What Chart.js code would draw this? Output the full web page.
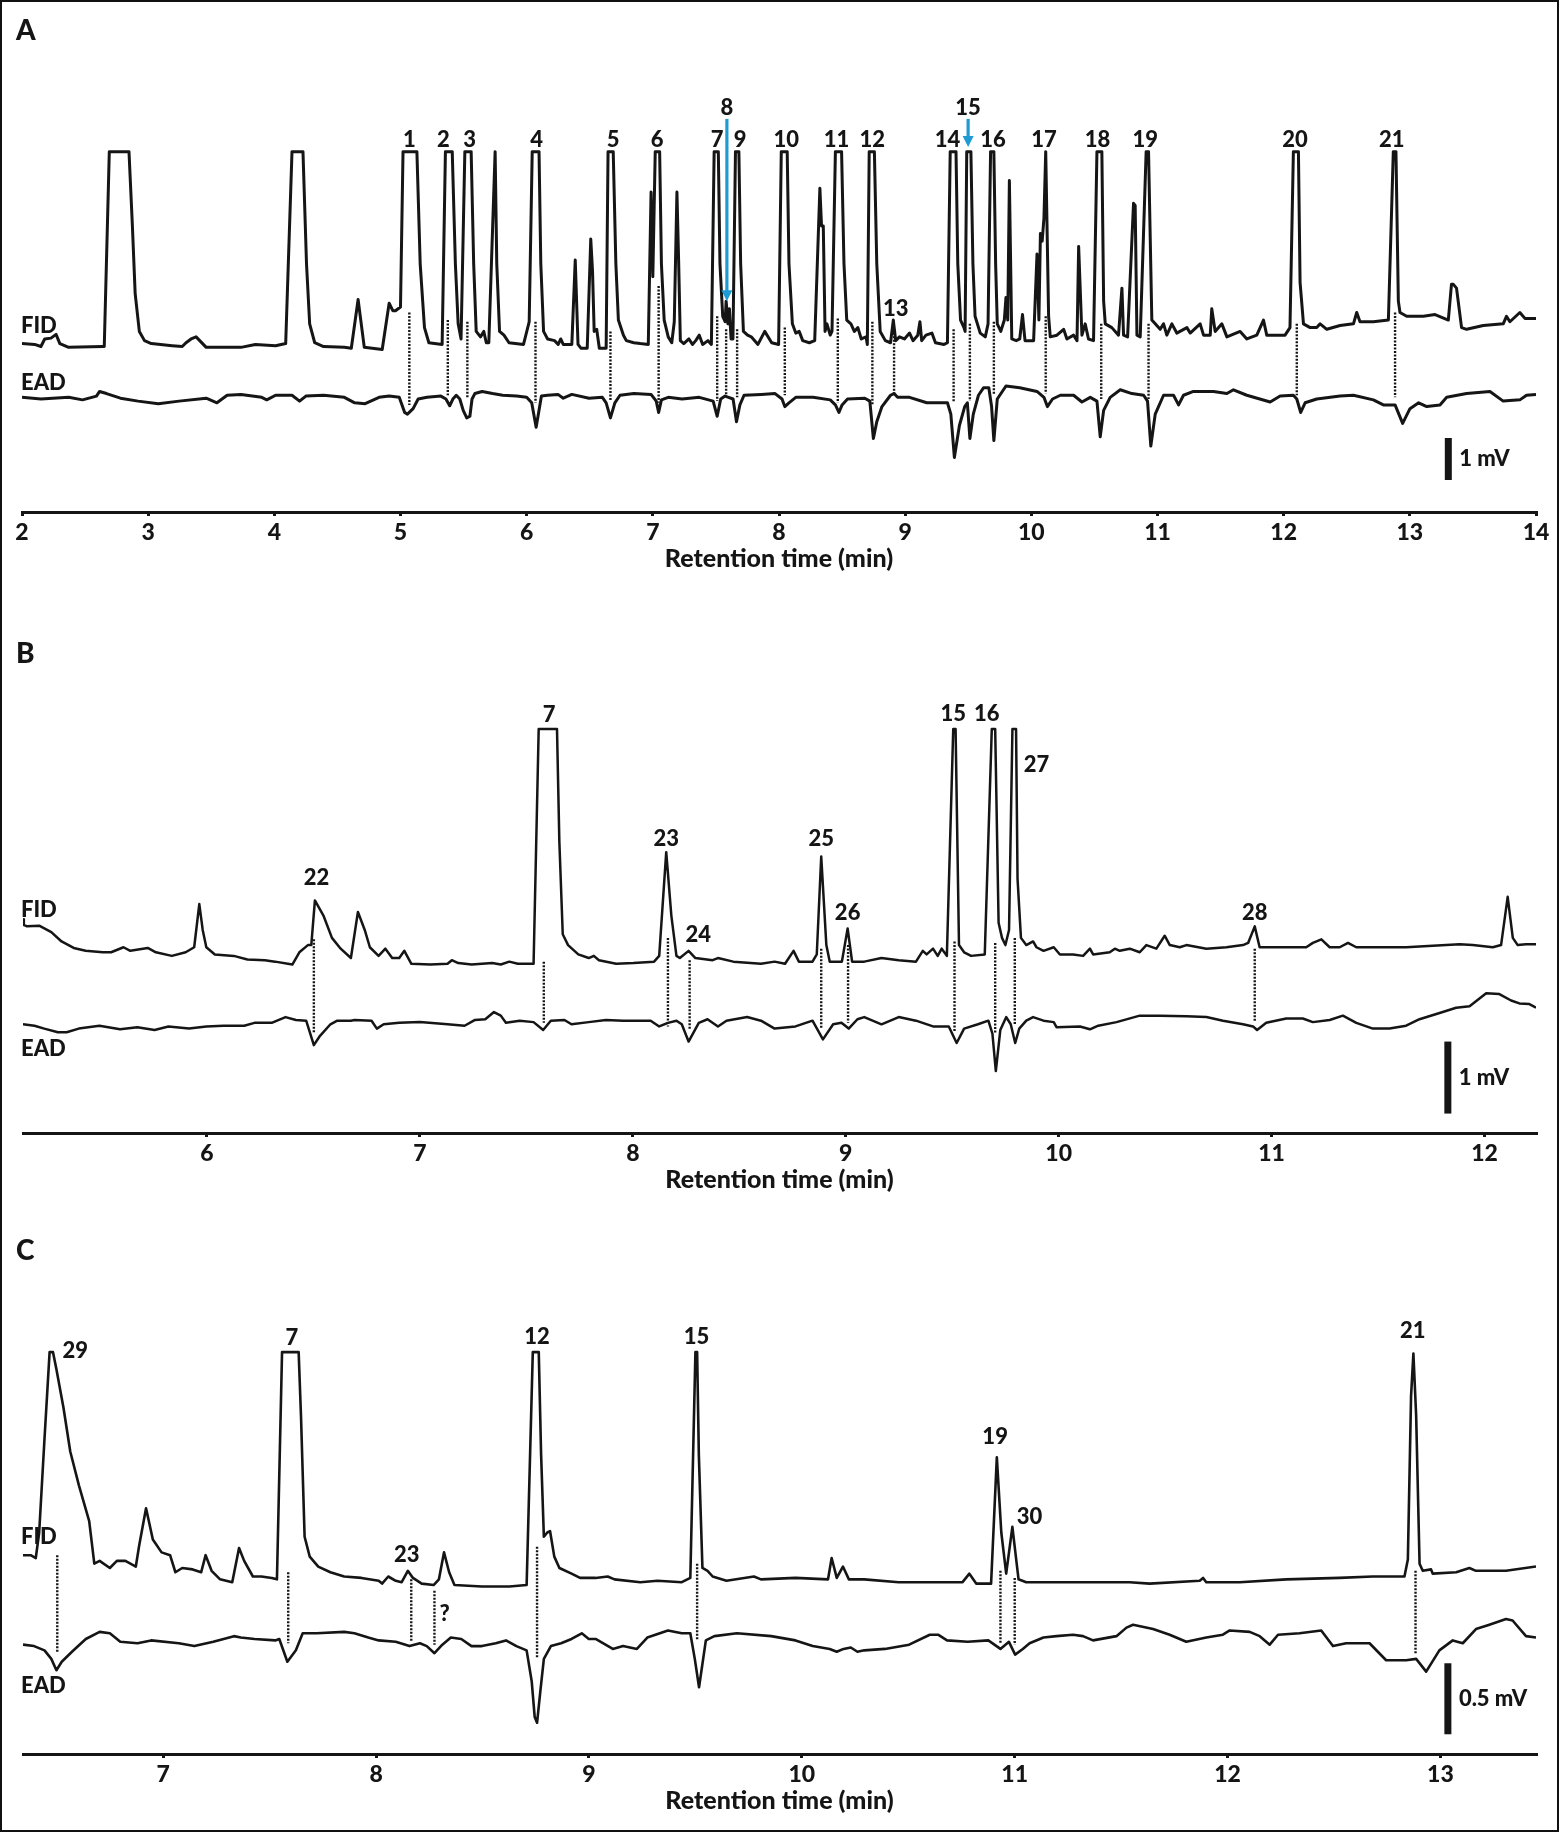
<!DOCTYPE html>
<html><head><meta charset="utf-8">
<script src="https://cdn.jsdelivr.net/npm/chart.js@4.4.1/dist/chart.umd.min.js"></script>
<style>
html,body{margin:0;padding:0;background:#fff;overflow:hidden;width:1562px;height:1833px;}
#frame{position:absolute;left:0;top:0;width:1559px;height:1832px;border:2px solid #111;box-sizing:border-box;}
canvas{position:absolute;left:0;}
</style></head><body>
<div id="frame"></div>
<canvas id="cA" width="1562" height="574" style="top:0px"></canvas>
<canvas id="cB" width="1562" height="594" style="top:601px"></canvas>
<canvas id="cC" width="1562" height="586" style="top:1230px"></canvas>
<script>
// ===== Panel A data: [retention time (min), signal (mV)] =====
const fidA = [[2.00,4.01],[2.10,3.99],[2.15,3.94],[2.18,4.12],[2.23,4.14],[2.27,4.23],[2.30,4.01],[2.37,3.92],[2.64,3.94],[2.652,3.94],[2.692,8.58],[2.848,8.58],[2.875,6.81],[2.897,5.20],[2.93,4.30],[2.971,4.08],[3.025,4.01],[3.19,3.96],[3.27,3.94],[3.30,4.03],[3.34,4.12],[3.38,4.17],[3.46,3.92],[3.735,3.92],[3.85,3.99],[4.01,3.96],[4.09,4.01],[4.14,8.58],[4.227,8.58],[4.255,5.91],[4.28,4.48],[4.32,4.03],[4.39,3.94],[4.555,3.92],[4.61,3.90],[4.664,5.06],[4.713,3.92],[4.855,3.87],[4.91,4.97],[4.94,4.79],[4.96,4.79],[5.00,4.88],[5.02,8.58],[5.13,8.58],[5.156,5.91],[5.19,4.39],[5.225,4.03],[5.33,3.99],[5.356,8.58],[5.41,8.58],[5.435,5.91],[5.457,4.48],[5.48,4.12],[5.51,8.58],[5.56,8.58],[5.58,5.91],[5.60,4.30],[5.634,4.17],[5.66,4.30],[5.68,4.03],[5.70,4.03],[5.75,8.58],[5.763,5.91],[5.785,4.30],[5.82,4.21],[5.86,4.03],[5.975,3.99],[6.02,4.53],[6.044,8.58],[6.098,8.58],[6.112,5.91],[6.134,4.30],[6.166,4.12],[6.221,4.08],[6.25,3.99],[6.27,4.12],[6.29,3.99],[6.358,3.99],[6.385,6.00],[6.407,3.99],[6.43,3.90],[6.48,3.90],[6.508,6.50],[6.522,5.73],[6.535,4.30],[6.555,4.35],[6.576,3.90],[6.63,3.90],[6.645,8.58],[6.686,8.58],[6.707,5.91],[6.727,4.57],[6.767,4.21],[6.79,4.08],[6.849,4.03],[6.90,4.01],[6.964,3.99],[6.986,7.62],[7.00,5.60],[7.019,8.58],[7.054,8.58],[7.068,5.91],[7.09,4.57],[7.122,4.17],[7.15,4.03],[7.17,4.53],[7.191,7.62],[7.205,5.91],[7.218,4.08],[7.245,4.01],[7.286,4.12],[7.314,3.99],[7.34,4.08],[7.368,4.21],[7.395,3.99],[7.437,4.08],[7.464,3.99],[7.486,8.58],[7.519,8.58],[7.532,5.91],[7.554,4.66],[7.573,4.53],[7.581,5.02],[7.595,4.48],[7.607,4.84],[7.62,4.12],[7.635,4.12],[7.655,8.58],[7.682,8.58],[7.696,5.91],[7.718,4.30],[7.751,4.21],[7.78,4.17],[7.833,3.99],[7.887,4.30],[7.942,4.03],[7.997,3.99],[8.018,8.58],[8.065,8.58],[8.079,5.91],[8.106,4.48],[8.133,4.26],[8.16,4.30],[8.188,4.08],[8.24,4.03],[8.283,4.08],[8.324,7.71],[8.337,6.81],[8.351,6.81],[8.365,4.30],[8.38,4.48],[8.406,4.21],[8.42,4.30],[8.447,8.58],[8.496,8.58],[8.515,5.91],[8.537,4.57],[8.57,4.48],[8.597,4.30],[8.625,4.39],[8.652,4.12],[8.69,4.17],[8.70,3.99],[8.715,8.58],[8.756,8.58],[8.775,5.91],[8.802,4.30],[8.843,4.08],[8.884,4.03],[8.906,4.57],[8.925,4.08],[8.955,4.17],[8.994,4.12],[9.035,4.26],[9.062,4.08],[9.10,4.21],[9.117,4.53],[9.131,4.08],[9.165,4.21],[9.212,4.26],[9.24,4.03],[9.308,3.99],[9.335,4.03],[9.357,8.58],[9.403,8.58],[9.417,5.91],[9.439,4.57],[9.466,4.39],[9.475,4.30],[9.488,8.58],[9.521,8.58],[9.537,5.91],[9.554,4.66],[9.595,4.26],[9.635,4.17],[9.657,4.48],[9.677,8.58],[9.703,8.58],[9.717,5.91],[9.73,4.48],[9.758,4.30],[9.786,4.57],[9.799,5.11],[9.813,4.57],[9.826,7.89],[9.845,4.12],[9.88,4.08],[9.908,4.12],[9.93,4.70],[9.95,4.08],[10.018,4.08],[10.045,6.14],[10.06,4.57],[10.072,6.63],[10.086,6.45],[10.10,7.00],[10.114,8.58],[10.137,4.66],[10.15,4.17],[10.203,4.21],[10.256,4.35],[10.282,4.12],[10.335,4.21],[10.362,4.08],[10.375,6.32],[10.401,4.21],[10.427,4.48],[10.453,4.12],[10.493,4.08],[10.52,8.58],[10.559,8.58],[10.573,5.02],[10.586,4.48],[10.638,4.39],[10.691,4.21],[10.718,5.33],[10.731,4.21],[10.763,4.17],[10.81,7.35],[10.823,7.30],[10.837,4.21],[10.863,4.17],[10.91,8.58],[10.929,8.58],[10.955,4.57],[10.982,4.48],[11.021,4.35],[11.048,4.48],[11.074,4.21],[11.114,4.48],[11.153,4.26],[11.233,4.39],[11.259,4.26],[11.338,4.48],[11.365,4.21],[11.418,4.21],[11.43,4.84],[11.457,4.30],[11.51,4.48],[11.55,4.17],[11.655,4.30],[11.708,4.12],[11.787,4.21],[11.84,4.57],[11.866,4.21],[12.011,4.21],[12.05,4.39],[12.077,8.58],[12.117,8.58],[12.13,5.47],[12.157,4.48],[12.21,4.39],[12.262,4.39],[12.289,4.48],[12.342,4.35],[12.447,4.44],[12.553,4.48],[12.579,4.75],[12.605,4.53],[12.711,4.53],[12.83,4.57],[12.869,8.58],[12.89,8.58],[12.909,5.02],[12.922,4.75],[12.975,4.66],[13.107,4.66],[13.20,4.70],[13.305,4.57],[13.33,5.42],[13.345,5.42],[13.37,5.33],[13.41,4.39],[13.45,4.35],[13.582,4.44],[13.74,4.48],[13.766,4.66],[13.793,4.53],[13.872,4.75],[13.912,4.61],[14.0,4.61]];
const eadA = [[2.0,2.73],[2.15,2.69],[2.37,2.73],[2.48,2.67],[2.59,2.76],[2.615,2.87],[2.67,2.82],[2.78,2.71],[2.92,2.64],[3.08,2.58],[3.245,2.64],[3.46,2.71],[3.545,2.60],[3.626,2.78],[3.736,2.80],[3.90,2.73],[3.94,2.67],[4.01,2.78],[4.14,2.78],[4.20,2.64],[4.25,2.76],[4.39,2.78],[4.555,2.73],[4.637,2.60],[4.72,2.58],[4.83,2.73],[4.91,2.76],[4.99,2.73],[5.033,2.37],[5.055,2.33],[5.10,2.46],[5.14,2.69],[5.21,2.73],[5.32,2.76],[5.36,2.69],[5.39,2.53],[5.415,2.69],[5.442,2.78],[5.47,2.69],[5.497,2.42],[5.525,2.24],[5.55,2.28],[5.567,2.69],[5.59,2.82],[5.647,2.87],[5.73,2.82],[5.81,2.78],[5.92,2.76],[6.0,2.73],[6.04,2.60],[6.075,2.02],[6.098,2.42],[6.117,2.76],[6.166,2.78],[6.248,2.80],[6.29,2.71],[6.358,2.80],[6.494,2.71],[6.60,2.73],[6.63,2.60],[6.664,2.24],[6.699,2.60],[6.74,2.78],[6.85,2.82],[6.986,2.80],[7.027,2.64],[7.046,2.37],[7.068,2.67],[7.122,2.73],[7.232,2.69],[7.368,2.73],[7.478,2.64],[7.51,2.28],[7.538,2.69],[7.573,2.76],[7.60,2.73],[7.636,2.69],[7.663,2.15],[7.69,2.55],[7.723,2.78],[7.86,2.80],[7.969,2.82],[8.024,2.69],[8.046,2.51],[8.079,2.60],[8.133,2.73],[8.27,2.73],[8.406,2.67],[8.447,2.55],[8.475,2.37],[8.50,2.55],[8.543,2.69],[8.68,2.71],[8.72,2.64],[8.748,1.75],[8.775,2.15],[8.816,2.51],[8.884,2.78],[8.912,2.82],[8.94,2.73],[9.035,2.73],[9.171,2.60],[9.335,2.60],[9.362,2.33],[9.39,1.30],[9.43,2.06],[9.472,2.51],[9.493,2.60],[9.513,1.75],[9.54,2.33],[9.581,2.78],[9.622,2.96],[9.663,2.96],[9.685,2.51],[9.703,1.70],[9.73,2.69],[9.799,3.00],[9.908,2.96],[10.045,2.87],[10.10,2.73],[10.127,2.51],[10.168,2.69],[10.23,2.78],[10.335,2.78],[10.401,2.62],[10.467,2.73],[10.52,2.64],[10.546,1.79],[10.573,2.42],[10.625,2.73],[10.705,2.91],[10.797,2.82],[10.89,2.78],[10.921,2.64],[10.947,1.57],[10.982,2.33],[11.048,2.78],[11.127,2.78],[11.167,2.55],[11.206,2.78],[11.285,2.87],[11.444,2.87],[11.55,2.82],[11.602,2.91],[11.708,2.78],[11.893,2.62],[11.972,2.76],[12.077,2.78],[12.104,2.69],[12.135,2.37],[12.17,2.60],[12.262,2.69],[12.447,2.76],[12.553,2.78],[12.711,2.67],[12.79,2.55],[12.883,2.55],[12.943,2.11],[13.001,2.46],[13.07,2.60],[13.134,2.51],[13.239,2.55],[13.292,2.73],[13.45,2.82],[13.635,2.87],[13.74,2.64],[13.872,2.67],[13.925,2.78],[14.0,2.80]];
// dotted links: [time, FID end, EAD end]
const linksA = [[5.07,4.75,2.55],[5.375,4.57,2.78],[5.53,4.53,2.73],[6.07,4.53,2.60],[6.664,4.30,2.64],[7.046,5.38,2.60],[7.51,4.66,2.64],[7.581,4.35,2.78],[7.668,4.35,2.73],[8.046,4.39,2.78],[8.466,4.61,2.60],[8.74,4.53,2.55],[8.912,4.35,2.82],[9.384,4.35,2.60],[9.513,4.48,2.64],[9.703,4.53,2.78],[10.114,4.66,2.82],[10.554,4.48,2.69],[10.929,4.48,2.69],[12.104,4.48,2.78],[12.883,4.75,2.73]];
const peaksA = [['1',5.07,8.87],['2',5.339,8.87],['3',5.547,8.87],['4',6.079,8.87],['5',6.685,8.87],['6',7.035,8.87],['7',7.51,8.87],['8',7.587,9.63],['9',7.691,8.87],['10',8.057,8.87],['11',8.455,8.87],['12',8.74,8.87],['13',8.925,4.84],['14',9.335,8.87],['15',9.499,9.63],['16',9.696,8.87],['17',10.10,8.87],['18',10.525,8.87],['19',10.903,8.87],['20',12.09,8.87],['21',12.856,8.87]];
const arrowsA = [[7.587,9.36,5.02],[9.499,9.36,8.69]];
const ticksA = [2,14];

// ===== Panel B data =====
const fidB = [[5.136,2.97],[5.14,2.89],[5.155,2.87],[5.212,2.88],[5.269,2.79],[5.317,2.66],[5.35,2.61],[5.374,2.57],[5.43,2.53],[5.511,2.51],[5.55,2.51],[5.608,2.58],[5.64,2.53],[5.722,2.57],[5.76,2.51],[5.835,2.46],[5.90,2.51],[5.94,2.58],[5.964,3.18],[5.98,2.82],[5.997,2.58],[6.037,2.48],[6.126,2.46],[6.19,2.41],[6.272,2.40],[6.32,2.38],[6.401,2.34],[6.434,2.51],[6.474,2.61],[6.49,2.61],[6.507,3.23],[6.547,3.02],[6.587,2.71],[6.628,2.56],[6.676,2.43],[6.709,3.07],[6.741,2.82],[6.765,2.58],[6.806,2.46],[6.838,2.56],[6.87,2.43],[6.903,2.43],[6.927,2.53],[6.96,2.35],[7.049,2.34],[7.13,2.35],[7.15,2.40],[7.18,2.36],[7.243,2.34],[7.34,2.36],[7.38,2.34],[7.42,2.38],[7.46,2.35],[7.534,2.35],[7.558,5.61],[7.644,5.61],[7.655,4.05],[7.671,2.76],[7.696,2.61],[7.744,2.48],[7.793,2.43],[7.817,2.46],[7.841,2.40],[7.922,2.35],[8.003,2.36],[8.10,2.38],[8.124,2.46],[8.157,3.90],[8.181,3.02],[8.205,2.46],[8.221,2.43],[8.262,2.53],[8.294,2.43],[8.375,2.40],[8.40,2.43],[8.472,2.38],[8.602,2.35],[8.666,2.38],[8.715,2.35],[8.755,2.53],[8.78,2.38],[8.844,2.38],[8.864,2.48],[8.885,3.84],[8.909,2.61],[8.925,2.38],[8.982,2.38],[9.009,2.84],[9.03,2.38],[9.087,2.38],[9.168,2.43],[9.249,2.40],[9.33,2.38],[9.362,2.53],[9.38,2.48],[9.41,2.56],[9.432,2.46],[9.451,2.56],[9.475,2.46],[9.505,5.61],[9.516,5.61],[9.532,2.61],[9.556,2.51],[9.589,2.46],[9.653,2.48],[9.686,5.61],[9.702,5.61],[9.718,2.92],[9.734,2.71],[9.75,2.61],[9.767,2.82],[9.783,5.61],[9.80,5.61],[9.807,3.53],[9.823,2.71],[9.848,2.61],[9.88,2.66],[9.896,2.58],[9.929,2.53],[9.977,2.58],[10.006,2.48],[10.068,2.48],[10.115,2.46],[10.147,2.56],[10.162,2.48],[10.24,2.51],[10.264,2.56],[10.287,2.53],[10.334,2.56],[10.381,2.51],[10.412,2.61],[10.459,2.56],[10.498,2.74],[10.522,2.61],[10.569,2.58],[10.60,2.61],[10.694,2.56],[10.788,2.58],[10.866,2.61],[10.89,2.64],[10.921,2.87],[10.944,2.58],[11.007,2.58],[11.163,2.58],[11.194,2.64],[11.234,2.69],[11.273,2.58],[11.32,2.58],[11.359,2.64],[11.398,2.58],[11.476,2.58],[11.632,2.58],[11.757,2.60],[11.883,2.62],[11.945,2.61],[12.039,2.58],[12.078,2.61],[12.109,3.28],[12.133,2.71],[12.156,2.61],[12.195,2.62],[12.242,2.62]];
const eadB = [[5.136,1.51],[5.19,1.49],[5.236,1.45],[5.30,1.40],[5.341,1.40],[5.398,1.45],[5.495,1.49],[5.592,1.44],[5.673,1.47],[5.754,1.43],[5.819,1.48],[5.916,1.45],[5.997,1.48],[6.078,1.49],[6.175,1.49],[6.223,1.53],[6.304,1.53],[6.369,1.61],[6.418,1.57],[6.466,1.56],[6.502,1.22],[6.531,1.35],[6.58,1.51],[6.612,1.56],[6.676,1.56],[6.693,1.57],[6.773,1.56],[6.798,1.45],[6.83,1.51],[6.903,1.53],[7.0,1.54],[7.13,1.51],[7.21,1.49],[7.259,1.57],[7.307,1.58],[7.348,1.68],[7.38,1.63],[7.404,1.53],[7.469,1.56],[7.534,1.54],[7.579,1.43],[7.615,1.56],[7.679,1.57],[7.712,1.51],[7.793,1.54],[7.874,1.57],[7.954,1.56],[8.084,1.56],[8.124,1.48],[8.165,1.53],[8.205,1.56],[8.23,1.51],[8.262,1.27],[8.31,1.53],[8.351,1.58],[8.40,1.48],[8.44,1.56],[8.537,1.61],[8.602,1.56],[8.666,1.45],[8.764,1.48],[8.844,1.56],[8.893,1.30],[8.941,1.51],[8.98,1.53],[9.014,1.45],[9.055,1.58],[9.087,1.61],[9.168,1.51],[9.249,1.61],[9.33,1.56],[9.41,1.48],[9.484,1.48],[9.521,1.25],[9.556,1.45],[9.621,1.51],[9.67,1.56],[9.689,1.38],[9.705,0.86],[9.726,1.43],[9.754,1.61],[9.775,1.51],[9.796,1.25],[9.815,1.45],[9.848,1.56],[9.88,1.61],[9.929,1.56],[9.977,1.54],[9.99,1.47],[10.10,1.48],[10.147,1.44],[10.186,1.49],[10.272,1.54],[10.381,1.63],[10.475,1.63],[10.60,1.62],[10.694,1.61],[10.772,1.56],[10.866,1.51],[10.913,1.48],[10.932,1.43],[10.975,1.53],[11.069,1.59],[11.147,1.59],[11.194,1.54],[11.273,1.57],[11.335,1.63],[11.398,1.53],[11.476,1.45],[11.554,1.45],[11.632,1.49],[11.695,1.58],[11.804,1.68],[11.867,1.74],[11.93,1.76],[12.008,1.94],[12.07,1.93],[12.125,1.84],[12.164,1.80],[12.211,1.79],[12.242,1.74]];
const linksB = [[6.502,2.69,1.40],[7.582,2.38,1.53],[8.165,2.71,1.48],[8.267,2.40,1.43],[8.885,2.56,1.45],[9.011,2.61,1.53],[9.511,2.66,1.40],[9.702,2.64,1.38],[9.794,2.71,1.51],[10.921,2.56,1.56]];
const peaksB = [['22',6.515,3.54],['7',7.607,5.81],['23',8.157,4.09],['24',8.307,2.75],['25',8.885,4.09],['26',9.009,3.06],['15',9.505,5.82],['16',9.662,5.82],['27',9.896,5.11],['28',10.921,3.05]];
const ticksB = [6,12];

// ===== Panel C data =====
const fidC = [[6.341,1.40],[6.377,1.40],[6.401,1.38],[6.417,1.56],[6.442,2.22],[6.466,2.83],[6.482,2.83],[6.498,2.71],[6.531,2.44],[6.563,2.13],[6.604,1.89],[6.652,1.64],[6.676,1.34],[6.701,1.36],[6.749,1.31],[6.782,1.36],[6.822,1.36],[6.871,1.32],[6.887,1.47],[6.919,1.73],[6.951,1.51],[6.992,1.42],[7.032,1.40],[7.057,1.28],[7.089,1.31],[7.138,1.30],[7.178,1.28],[7.199,1.40],[7.227,1.29],[7.267,1.23],[7.324,1.21],[7.356,1.45],[7.38,1.36],[7.421,1.25],[7.461,1.25],[7.51,1.24],[7.534,1.23],[7.558,2.83],[7.636,2.83],[7.647,2.38],[7.664,1.53],[7.688,1.39],[7.728,1.32],[7.785,1.28],[7.85,1.25],[7.931,1.24],[8.012,1.22],[8.028,1.20],[8.057,1.25],[8.092,1.22],[8.12,1.21],[8.149,1.29],[8.173,1.24],[8.214,1.20],[8.27,1.19],[8.295,1.23],[8.319,1.42],[8.343,1.28],[8.368,1.19],[8.497,1.18],[8.626,1.18],[8.707,1.19],[8.736,2.83],[8.764,2.83],[8.775,2.11],[8.788,1.53],[8.804,1.56],[8.817,1.57],[8.837,1.39],[8.861,1.31],[8.918,1.27],[8.958,1.24],[9.031,1.24],[9.088,1.25],[9.12,1.23],[9.241,1.21],[9.322,1.22],[9.436,1.21],[9.476,1.24],[9.50,2.83],[9.508,2.83],[9.516,2.11],[9.533,1.31],[9.557,1.29],[9.581,1.25],[9.646,1.22],[9.775,1.25],[9.808,1.23],[9.97,1.24],[10.123,1.23],[10.14,1.38],[10.164,1.24],[10.193,1.32],[10.221,1.23],[10.293,1.23],[10.455,1.21],[10.617,1.21],[10.755,1.21],[10.787,1.27],[10.819,1.20],[10.889,1.20],[10.916,2.09],[10.937,1.56],[10.96,1.27],[10.989,1.60],[11.018,1.23],[11.054,1.21],[11.213,1.21],[11.274,1.21],[11.431,1.21],[11.54,1.21],[11.634,1.20],[11.869,1.22],[11.885,1.24],[11.90,1.21],[12.057,1.21],[12.276,1.23],[12.526,1.24],[12.682,1.25],[12.776,1.25],[12.831,1.25],[12.847,1.37],[12.862,2.52],[12.873,2.82],[12.886,2.38],[12.902,1.34],[12.917,1.29],[12.956,1.30],[12.964,1.27],[13.074,1.28],[13.136,1.31],[13.167,1.29],[13.308,1.29],[13.449,1.32]];
const eadC = [[6.341,0.77],[6.393,0.76],[6.442,0.73],[6.474,0.67],[6.498,0.59],[6.523,0.65],[6.571,0.72],[6.636,0.81],[6.701,0.86],[6.749,0.85],[6.798,0.79],[6.879,0.78],[6.943,0.80],[7.073,0.78],[7.146,0.76],[7.235,0.79],[7.332,0.83],[7.364,0.82],[7.429,0.81],[7.526,0.80],[7.545,0.81],[7.583,0.65],[7.623,0.73],[7.655,0.85],[7.72,0.85],[7.85,0.86],[7.898,0.85],[7.963,0.82],[8.012,0.80],[8.092,0.79],[8.157,0.76],[8.206,0.78],[8.238,0.76],[8.274,0.71],[8.311,0.77],[8.351,0.82],[8.40,0.81],[8.448,0.76],[8.497,0.76],[8.562,0.78],[8.61,0.80],[8.659,0.76],[8.707,0.73],[8.731,0.51],[8.745,0.26],[8.756,0.22],[8.772,0.45],[8.788,0.67],[8.821,0.76],[8.869,0.78],[8.918,0.81],[8.966,0.85],[8.999,0.81],[9.031,0.81],[9.112,0.74],[9.16,0.76],[9.225,0.74],[9.274,0.82],[9.371,0.87],[9.436,0.85],[9.476,0.85],[9.497,0.67],[9.517,0.47],[9.549,0.80],[9.589,0.83],[9.695,0.85],[9.856,0.83],[9.97,0.80],[10.051,0.76],[10.131,0.74],[10.164,0.72],[10.196,0.74],[10.23,0.75],[10.261,0.72],[10.293,0.73],[10.39,0.74],[10.504,0.77],[10.601,0.84],[10.64,0.84],[10.682,0.80],[10.779,0.79],[10.876,0.80],[10.933,0.74],[10.973,0.79],[11.002,0.70],[11.038,0.74],[11.07,0.78],[11.135,0.82],[11.196,0.83],[11.274,0.84],[11.321,0.83],[11.368,0.80],[11.478,0.83],[11.525,0.89],[11.556,0.91],[11.65,0.88],[11.728,0.84],[11.806,0.79],[11.9,0.82],[11.978,0.84],[12.01,0.87],[12.104,0.86],[12.151,0.83],[12.198,0.77],[12.237,0.84],[12.338,0.85],[12.44,0.87],[12.495,0.76],[12.557,0.78],[12.667,0.78],[12.745,0.66],[12.839,0.66],[12.886,0.67],[12.933,0.58],[12.995,0.73],[13.058,0.80],[13.105,0.78],[13.167,0.88],[13.23,0.91],[13.308,0.95],[13.339,0.94],[13.402,0.83],[13.449,0.82]];
const linksC = [[6.502,1.40,0.72],[7.587,1.28,0.78],[8.165,1.23,0.79],[8.274,1.15,0.77],[8.756,1.46,0.68],[9.508,1.34,0.80],[10.933,1.29,0.78],[11.0,1.24,0.77],[12.883,1.29,0.70]];
const peaksC = [['29',6.587,2.84],['7',7.604,2.93],['23',8.144,1.40],['?',8.322,0.99],['12',8.756,2.94],['15',9.505,2.94],['19',10.908,2.23],['30',11.07,1.67],['21',12.87,2.98]];
const ticksC = [7,13];

// ===== rendering =====
const INK = '#151515';
const FONT = 'Lato, "Noto Sans", sans-serif';
const W = 900;
const toXY = arr => arr.map(([x, y]) => ({x, y}));
const linkData = arr => arr.flatMap(([t, a, b]) => [{x: t, y: a}, {x: t, y: b}, {x: t, y: null}]);

function panel(id, o) {
  const annot = {
    id: 'annot',
    afterDatasetsDraw(chart) {
      const ctx = chart.ctx, xs = chart.scales.x, ys = chart.scales.y;
      ctx.save();
      ctx.fillStyle = INK;
      ctx.textAlign = 'center';
      ctx.textBaseline = 'middle';
      ctx.font = `${W} 22px ${FONT}`;
      o.peaks.forEach(([txt, t, v]) => ctx.fillText(txt, xs.getPixelForValue(t), ys.getPixelForValue(v)));
      (o.arrows || []).forEach(([t, v0, v1]) => {
        const x = xs.getPixelForValue(t), y0 = ys.getPixelForValue(v0), y1 = ys.getPixelForValue(v1);
        ctx.strokeStyle = '#1f9bd4'; ctx.fillStyle = '#1f9bd4'; ctx.lineWidth = 3.2;
        ctx.beginPath(); ctx.moveTo(x, y0); ctx.lineTo(x, y1 - 8); ctx.stroke();
        ctx.beginPath(); ctx.moveTo(x - 5.5, y1 - 11); ctx.lineTo(x + 5.5, y1 - 11); ctx.lineTo(x, y1); ctx.closePath(); ctx.fill();
      });
      ctx.fillStyle = INK;
      const bx = xs.getPixelForValue(o.bar[0]);
      const b0 = ys.getPixelForValue(o.bar[1]), b1 = ys.getPixelForValue(o.bar[1] + o.bar[2]);
      ctx.fillRect(bx - 3.5, b1, 7, b0 - b1);
      ctx.textAlign = 'left';
      ctx.font = `${W} 22px ${FONT}`;
      ctx.fillText(o.bar[3], bx + 11, (b0 + b1) / 2);
      ctx.fillText('FID', 21, o.fidY);
      ctx.fillText('EAD', 21, o.eadY);
      ctx.font = `${W} 28px ${FONT}`;
      ctx.fillText(o.letter, 16, o.letterY);
      ctx.restore();
    }
  };
  return new Chart(document.getElementById(id), {
    type: 'line',
    data: {
      datasets: [
        {data: toXY(o.fid), borderColor: INK, borderWidth: o.lw, pointRadius: 0, tension: 0, borderJoinStyle: 'round'},
        {data: toXY(o.ead), borderColor: INK, borderWidth: o.lw, pointRadius: 0, tension: 0, borderJoinStyle: 'round'},
        {data: linkData(o.links), borderColor: INK, borderWidth: 2.4, borderDash: [2, 1.5], pointRadius: 0, spanGaps: false}
      ]
    },
    options: {
      responsive: false, animation: false, devicePixelRatio: 1,
      layout: {padding: {left: o.left, right: 26, top: 20, bottom: 0}},
      plugins: {legend: {display: false}, tooltip: {enabled: false}},
      scales: {
        x: {
          type: 'linear', min: o.xmin, max: o.xmax,
          afterFit: s => { s.height = 62; },
          ticks: {stepSize: 1, includeBounds: false, color: INK, padding: 3, maxRotation: 0, autoSkip: false,
                  font: {family: FONT, weight: W, size: 23},
                  callback: v => (v >= o.ticks[0] && v <= o.ticks[1] && Number.isInteger(v)) ? String(v) : ''},
          grid: {display: true, drawOnChartArea: false, drawTicks: true, tickLength: 4, color: INK, lineWidth: 3},
          border: {display: true, color: INK, width: 3},
          title: {display: true, text: 'Retention time (min)', color: INK, padding: {top: 0, bottom: 0},
                  font: {family: FONT, weight: W, size: 25}}
        },
        y: {display: false, min: 0, max: o.ymax}
      }
    },
    plugins: [annot]
  });
}

panel('cA', {fid: fidA, ead: eadA, links: linksA, peaks: peaksA, arrows: arrowsA, ticks: ticksA,
  xmin: 2, xmax: 14, ymax: 492 / 42, left: 22, lw: 3, bar: [13.305, 0.762, 1, '1 mV'],
  fidY: 326, eadY: 383, letter: 'A', letterY: 31});
panel('cB', {fid: fidB, ead: eadB, links: linksB, peaks: peaksB, ticks: ticksB,
  xmin: 5.136, xmax: 12.242, ymax: 512 / 72, left: 23, lw: 2.5, bar: [11.828, 0.27, 1, '1 mV'],
  fidY: 910 - 601, eadY: 1049 - 601, letter: 'B', letterY: 654 - 601});
panel('cC', {fid: fidC, ead: eadC, links: linksC, peaks: peaksC, ticks: ticksC,
  xmin: 6.341, xmax: 13.449, ymax: 504 / 142, left: 23, lw: 2.6, bar: [13.035, 0.139, 0.5, '0.5 mV'],
  fidY: 1537 - 1230, eadY: 1686 - 1230, letter: 'C', letterY: 1251 - 1230});
</script>
</body></html>
